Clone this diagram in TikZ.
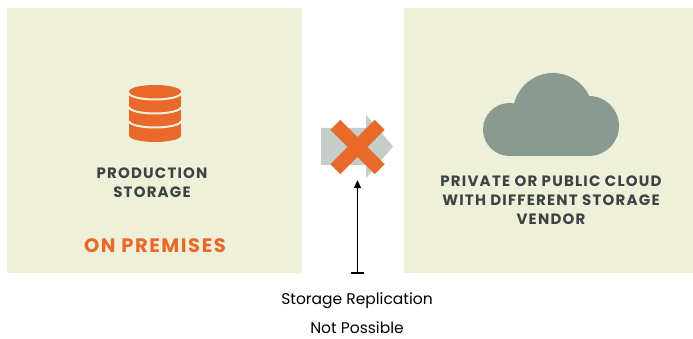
\documentclass[tikz,border=0pt]{standalone}
\usepackage{fontspec}
\setmainfont{Poppins}
\newfontfamily\capsfont[LetterSpace=8]{Poppins}
\usepackage{tikz}
\usetikzlibrary{positioning,arrows.meta}

\definecolor{beige}{HTML}{EEF0D9}
\definecolor{orng}{HTML}{E8692A}
\definecolor{darktext}{HTML}{3B4442}
\definecolor{cloudgray}{HTML}{8A9A91}
\definecolor{arrowgray}{HTML}{C4CDC7}

\begin{document}
\begin{tikzpicture}[x=1pt, y=-1pt,
    panel/.style={rectangle, fill=beige, draw=none, inner sep=0},
    caps/.style={align=center, text=darktext, font=\capsfont\bfseries\fontsize{15}{19}\selectfont},
    crossbar/.style={draw=orng, line width=14pt},
    repl/.style={{Bar[width=13pt]}-{Triangle[width=7pt,length=8pt]}, line width=1.8pt}]

    \useasboundingbox (0,0) rectangle (693,339);

    % Two sites
    \node (P)[panel, minimum width=295, minimum height=264] at (154.5,140.5) {};
    \node (V)[panel, minimum width=289, minimum height=264] at (548.5,140.5) {};

    % Storage stack
    \fill[orng] (129,91.5) rectangle (181,135.5);
    \fill[orng] (155,135.5) ellipse [x radius=26, y radius=6.5];
    \fill[orng] (155,91.5) ellipse [x radius=26, y radius=6.5];
    \foreach \y in {93,107,121}
        \draw[beige, line width=2pt] (129,\y) arc[start angle=180, end angle=0, x radius=26, y radius=6.5];

    \node (P1)[caps] at (152,182.5) {PRODUCTION\\STORAGE};
    \node (P2)[caps, text=orng, font=\capsfont\bfseries\fontsize{19.5}{22}\selectfont] at (155,245.5) {ON PREMISES};

    % Cloud
    \fill[cloudgray] (509.5,129.5) circle[radius=26.5];
    \fill[cloudgray] (553,113) circle[radius=40];
    \fill[cloudgray] (589,126) circle[radius=30];
    \fill[cloudgray] (509.5,113) rectangle (589,156);

    \node (V1)[caps] at (551,200.5) {PRIVATE OR PUBLIC CLOUD\\WITH DIFFERENT STORAGE\\VENDOR};

    % Blocked replication
    \fill[arrowgray] (321,128) -- (366,128) -- (366,115) -- (393,146.5) -- (366,178) -- (366,165) -- (321,165) -- cycle;
    \node (X)[inner sep=0, minimum size=44] at (357.5,147) {};
    \draw[crossbar] (X.north west) -- (X.south east);
    \draw[crossbar] (X.south west) -- (X.north east);

    \node (T)[align=center, font=\fontsize{15.5}{29}\selectfont] at (357,313) {Storage Replication\\Not Possible};
    \coordinate (B) at (357.5,274);
    \draw[repl] (B) -- (X.south) [shorten >=11pt];
\end{tikzpicture}
\end{document}
